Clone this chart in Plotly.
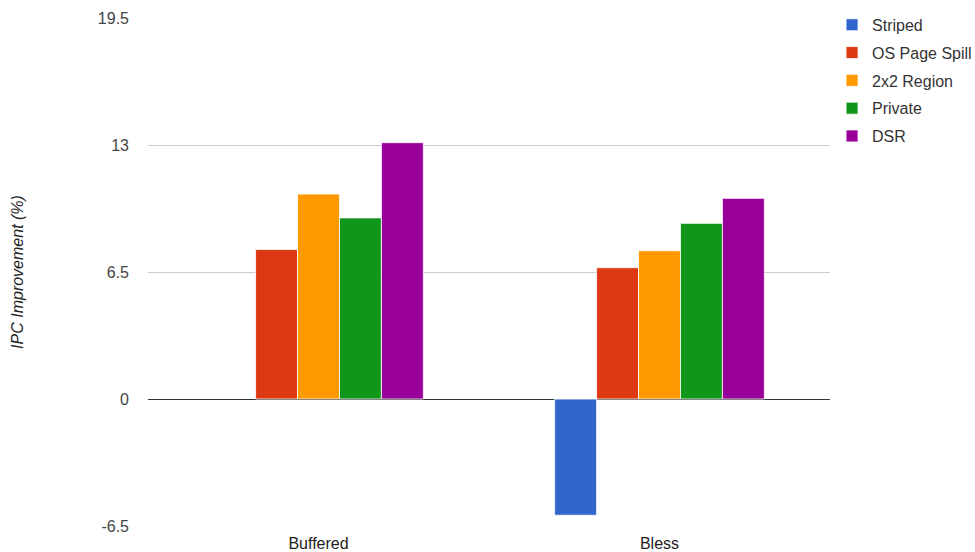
import plotly.graph_objects as go

categories = ["Buffered", "Bless"]
series_names = ["Striped", "OS Page Spill", "2x2 Region", "Private", "DSR"]
striped = [None, -5.95]
os_page_spill = [7.65, 6.72]
region_2x2 = [10.49, 7.59]
private = [9.27, 8.99]
dsr = [13.12, 10.27]
colors = ["#3366cc", "#dc3912", "#ff9900", "#109618", "#990099"]
y_ticks = [-6.5, 0, 6.5, 13, 19.5]
y_tick_labels = ["-6.5", "0", "6.5", "13", "19.5"]

series_values = [striped, os_page_spill, region_2x2, private, dsr]

fig = go.Figure()
for i, (name, vals, col) in enumerate(zip(series_names, series_values, colors)):
    fig.add_trace(go.Bar(
        x=categories, y=vals, name=name,
        marker=dict(color=col, line=dict(color="rgba(255,255,255,0.8)", width=1)),
        legendgroup=name,
    ))

font_family = "Liberation Sans, Arial, sans-serif"
fig.update_layout(
    width=975, height=552,
    margin=dict(l=148, r=145, t=18, b=26, autoexpand=False),
    paper_bgcolor="white", plot_bgcolor="white",
    barmode="group", bargap=0.385, bargroupgap=0,
    font=dict(family=font_family, size=16, color="#444444"),
    showlegend=True,
    legend=dict(
        x=1.003, xanchor="left", y=1.02, yanchor="top",
        font=dict(size=16, color="#333333"),
        tracegroupgap=4, itemwidth=30,
        bgcolor="rgba(0,0,0,0)",
    ),
    xaxis=dict(
        showgrid=False, showline=False, ticks="", automargin=False,
        tickfont=dict(size=16, color="#222222"),
        ticklabelstandoff=6,
    ),
    yaxis=dict(
        range=[-6.5, 19.5], automargin=False,
        tickvals=y_ticks, ticktext=y_tick_labels,
        showgrid=True, gridcolor="#cccccc", gridwidth=1,
        zeroline=True, zerolinecolor="#333333", zerolinewidth=1,
        showline=False, ticks="",
        ticklabelstandoff=18,
        tickfont=dict(size=16, color="#444444"),
        title=dict(text="<i>IPC Improvement (%)</i>", standoff=70,
                   font=dict(size=16, color="#222222")),
    ),
)

fig.write_html("out.html")
